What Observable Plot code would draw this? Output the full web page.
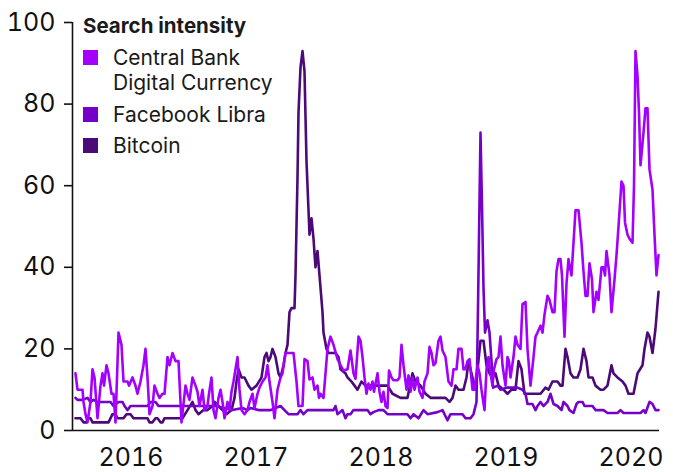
<!DOCTYPE html>
<html>
<head>
<meta charset="utf-8">
<script src="https://cdn.jsdelivr.net/npm/d3@7"></script>
<script src="https://cdn.jsdelivr.net/npm/@observablehq/plot@0.6"></script>
<style>
  html, body { margin: 0; padding: 0; background: #fff; }
  #wrap { position: relative; width: 673px; height: 472px; font-family: Inter, "Noto Sans", sans-serif; color: #1a1a1a; }
  #wrap svg { display: block; }
  .lg { position: absolute; white-space: nowrap; }
  .title { font-weight: 700; font-size: 20.5px; line-height: 20.5px; }
  .lab { font-size: 21px; line-height: 25px; }
  .sw { width: 15px; height: 15px; }
</style>
</head>
<body>
<div id="wrap"></div>
<script>
// Tick labels
const yTicks = [0, 20, 40, 60, 80, 100];
const xYears = [2016, 2017, 2018, 2019, 2020];
const seriesNames = ["Central Bank Digital Currency", "Facebook Libra", "Bitcoin"];
const seriesColors = ["#a300ff", "#7500c8", "#4b0a78"];
const legendTitle = "Search intensity";

// [time in fractional years, search intensity]
const bitcoin = [
[2016.056,3],[2016.096,3],[2016.120,2],[2016.144,2],[2016.160,3],[2016.176,3],[2016.192,2],[2016.320,2],[2016.352,4],[2016.376,4],[2016.392,3],[2016.440,3],[2016.464,4],[2016.496,4],[2016.520,3],[2016.632,3],[2016.648,2],[2016.672,2],[2016.696,3],[2016.712,3],[2016.736,2],[2016.752,2],[2016.768,3],[2016.912,3],[2016.952,5],[2016.992,7],[2017.016,5],[2017.040,4],[2017.080,5],[2017.112,5],[2017.152,6],[2017.168,7],[2017.200,6],[2017.232,5],[2017.264,4],[2017.304,5],[2017.328,8],[2017.344,12],[2017.360,15],[2017.384,13],[2017.408,13],[2017.440,11],[2017.464,10],[2017.504,11],[2017.544,13],[2017.568,18],[2017.584,19],[2017.600,17],[2017.616,18],[2017.632,20],[2017.656,18],[2017.680,14],[2017.696,13],[2017.720,16],[2017.736,19],[2017.752,21],[2017.768,29],[2017.784,30],[2017.808,30],[2017.816,38],[2017.832,62],[2017.840,78],[2017.856,89],[2017.872,93],[2017.888,88],[2017.904,66],[2017.920,54],[2017.928,48],[2017.944,52],[2017.960,47],[2017.976,40],[2017.992,44],[2018.008,38],[2018.032,29],[2018.040,24],[2018.064,20],[2018.080,19],[2018.136,19],[2018.160,18],[2018.176,15],[2018.216,14],[2018.232,13],[2018.264,12],[2018.288,11],[2018.312,10],[2018.344,12],[2018.376,11],[2018.496,11],[2018.552,11],[2018.592,9],[2018.656,8],[2018.712,8],[2018.752,14],[2018.776,12],[2018.816,11],[2018.856,9],[2018.896,8],[2018.952,8],[2019.016,8],[2019.048,7],[2019.072,8],[2019.096,11],[2019.120,10],[2019.160,10],[2019.184,13],[2019.200,17],[2019.232,13],[2019.256,10],[2019.296,22],[2019.320,22],[2019.344,16],[2019.368,14],[2019.392,13],[2019.416,14],[2019.440,11],[2019.480,10],[2019.512,9],[2019.544,10],[2019.576,10],[2019.600,17],[2019.624,15],[2019.648,9],[2019.696,9],[2019.736,9],[2019.776,9],[2019.816,10.5],[2019.840,10],[2019.872,12],[2019.912,12],[2019.936,11],[2019.952,11],[2019.976,20],[2019.992,18],[2020.016,14],[2020.040,13],[2020.072,13],[2020.096,15],[2020.120,20],[2020.144,17],[2020.160,13],[2020.192,13],[2020.216,11],[2020.256,10],[2020.280,10],[2020.312,11],[2020.344,16],[2020.360,14],[2020.392,13],[2020.432,12],[2020.456,11],[2020.480,9],[2020.520,9],[2020.552,14],[2020.592,16],[2020.608,20],[2020.632,24],[2020.648,23],[2020.672,19],[2020.696,25],[2020.720,34]
];

const libra = [
[2016.056,8],[2016.072,7.5],[2016.112,7.5],[2016.152,8],[2016.176,7],[2016.200,7.5],[2016.232,7],[2016.336,7],[2016.360,6],[2016.400,7],[2016.432,7],[2016.448,6],[2016.472,5],[2016.496,6],[2016.632,6],[2016.656,7],[2016.696,7],[2016.720,6],[2017.176,6],[2017.312,5],[2017.392,5.5],[2017.432,5],[2017.456,5.5],[2017.520,5],[2017.616,5],[2017.696,6],[2017.728,5],[2017.760,4],[2017.832,4],[2017.856,5],[2017.880,4],[2017.912,5],[2018.120,5],[2018.136,6],[2018.152,4],[2018.192,5],[2018.216,3],[2018.232,4],[2018.256,4],[2018.280,5],[2018.392,5],[2018.416,4],[2018.440,4.5],[2018.480,5],[2018.520,5],[2018.552,4],[2018.712,4],[2018.736,3],[2018.760,4],[2018.800,3],[2018.840,5],[2018.872,4],[2018.952,4.5],[2018.992,5],[2019.032,2.5],[2019.056,4],[2019.152,4],[2019.176,3],[2019.216,3],[2019.240,4],[2019.264,7],[2019.276,30],[2019.296,73],[2019.308,55],[2019.320,35],[2019.332,24],[2019.352,27],[2019.368,24],[2019.384,17],[2019.396,10.5],[2019.432,11],[2019.456,10],[2019.504,10.5],[2019.592,10.5],[2019.632,10],[2019.656,9],[2019.672,6.5],[2019.712,6.5],[2019.736,5],[2019.752,6],[2019.776,7],[2019.800,6],[2019.832,7],[2019.856,9],[2019.880,6.5],[2019.912,6],[2019.944,5],[2019.960,7],[2019.992,6],[2020.008,5],[2020.040,4.3],[2020.064,6.5],[2020.080,7],[2020.112,7],[2020.128,6],[2020.192,6],[2020.216,5],[2020.280,5],[2020.312,4.3],[2020.392,4.3],[2020.416,5],[2020.440,4.3],[2020.576,4.3],[2020.600,5],[2020.616,4.3],[2020.648,7],[2020.672,6.5],[2020.696,5],[2020.720,5]
];

const cbdc = [
[2016.056,14],[2016.072,10],[2016.088,10],[2016.112,10],[2016.120,7],[2016.136,4],[2016.152,2],[2016.176,7],[2016.192,15],[2016.208,13],[2016.232,3],[2016.256,11],[2016.272,14],[2016.284,11],[2016.304,16],[2016.320,14],[2016.344,9],[2016.360,9],[2016.376,2],[2016.400,24],[2016.424,21],[2016.440,12],[2016.472,12],[2016.484,11],[2016.512,13],[2016.536,11],[2016.552,9],[2016.576,12],[2016.600,16],[2016.616,20],[2016.632,13],[2016.648,4],[2016.672,6],[2016.688,11],[2016.712,9],[2016.728,8],[2016.752,9],[2016.768,9],[2016.792,18],[2016.808,16],[2016.832,19],[2016.856,17],[2016.880,17],[2016.904,2],[2016.936,11],[2016.952,9],[2016.968,7.5],[2016.992,13],[2017.016,11],[2017.032,9.5],[2017.048,6],[2017.072,10],[2017.088,5],[2017.112,6],[2017.124,9],[2017.144,13],[2017.160,5],[2017.176,3],[2017.200,8],[2017.216,10],[2017.232,7],[2017.248,3],[2017.272,7],[2017.288,5],[2017.304,9.5],[2017.320,12],[2017.352,18],[2017.368,10],[2017.384,5],[2017.408,4],[2017.432,5],[2017.448,7],[2017.472,9],[2017.488,5.5],[2017.512,9],[2017.528,10.5],[2017.552,12],[2017.576,13],[2017.592,16],[2017.608,12],[2017.632,7],[2017.648,3],[2017.672,10],[2017.696,13],[2017.712,14],[2017.736,19],[2017.760,19],[2017.800,19],[2017.824,12],[2017.840,6],[2017.872,6],[2017.888,17.5],[2017.912,17],[2017.928,12.5],[2017.952,13],[2017.968,10],[2017.992,11],[2018.004,8],[2018.016,9],[2018.040,8],[2018.072,20],[2018.096,23],[2018.120,21],[2018.152,17.5],[2018.176,16],[2018.200,14.7],[2018.232,15],[2018.256,19.6],[2018.280,14],[2018.296,12.7],[2018.320,23],[2018.336,22],[2018.352,18],[2018.368,13],[2018.384,9],[2018.400,11.5],[2018.416,10],[2018.432,12],[2018.444,9.5],[2018.472,14],[2018.488,9.5],[2018.504,7],[2018.520,9.5],[2018.536,6],[2018.552,5.5],[2018.564,14.7],[2018.584,13],[2018.600,12.3],[2018.632,12.3],[2018.648,13],[2018.664,21],[2018.680,16],[2018.704,10],[2018.720,13.5],[2018.736,9.5],[2018.752,13],[2018.768,10],[2018.792,13],[2018.808,9.5],[2018.832,8],[2018.848,12],[2018.872,14],[2018.888,20.5],[2018.904,19],[2018.920,16],[2018.936,16.5],[2018.960,22],[2018.976,23],[2018.992,19.6],[2019.016,18],[2019.040,12],[2019.064,11],[2019.080,15],[2019.104,15],[2019.120,20],[2019.144,20],[2019.160,15],[2019.176,15],[2019.192,17],[2019.208,17.5],[2019.232,10],[2019.248,10],[2019.272,16],[2019.288,14],[2019.304,10],[2019.328,5],[2019.344,15],[2019.360,18],[2019.376,14],[2019.392,11],[2019.404,15],[2019.424,17.5],[2019.440,18],[2019.456,23],[2019.472,16],[2019.496,11],[2019.512,18],[2019.524,17],[2019.536,13],[2019.560,18],[2019.576,23],[2019.592,21],[2019.616,20],[2019.632,31],[2019.656,31.5],[2019.672,20],[2019.696,11],[2019.720,18],[2019.736,23],[2019.752,24],[2019.776,25.7],[2019.792,24],[2019.808,28.4],[2019.832,33],[2019.848,32],[2019.872,29],[2019.888,29],[2019.904,39],[2019.920,42],[2019.936,42],[2019.948,38],[2019.968,23],[2019.984,36],[2020.000,42],[2020.024,38],[2020.040,46],[2020.056,54],[2020.080,54],[2020.104,46],[2020.120,39],[2020.136,33],[2020.152,33],[2020.168,41],[2020.188,37],[2020.200,29],[2020.224,34],[2020.240,32],[2020.264,40],[2020.280,40],[2020.292,38],[2020.304,44],[2020.328,38],[2020.344,29],[2020.368,37],[2020.384,43],[2020.400,50],[2020.424,61],[2020.440,60],[2020.452,51],[2020.472,48],[2020.488,47],[2020.512,46],[2020.524,60],[2020.536,93],[2020.552,87],[2020.564,78],[2020.576,65],[2020.600,73],[2020.616,79],[2020.632,79],[2020.648,64],[2020.672,59],[2020.688,48],[2020.704,38],[2020.720,43]
];

const xDomain = [2016.032, 2020.728];

const series = [
  {data: bitcoin, color: seriesColors[2]},
  {data: libra, color: seriesColors[1]},
  {data: cbdc, color: seriesColors[0]}
];

const chart = Plot.plot({
  width: 673,
  height: 472,
  marginLeft: 72,
  marginRight: 14,
  marginTop: 22,
  marginBottom: 42,
  style: {fontFamily: "Inter, 'Noto Sans', sans-serif", fontSize: "25px", color: "#111", background: "#fff"},
  x: {domain: xDomain, label: null},
  y: {domain: [0, 100], label: null},
  marks: [
    Plot.axisY({ticks: yTicks, tickSize: 8, tickPadding: 9, strokeWidth: 1.6, label: null, fontSize: 25}),
    Plot.axisX({ticks: xYears.map(y => y + 0.5), tickFormat: d => String(Math.floor(d)), tickSize: 0, tickPadding: 18, label: null, fontSize: 25}),
    Plot.ruleX([xDomain[0]], {y1: 0, y2: 100, stroke: "#111", strokeWidth: 1.6}),
    Plot.ruleY([0], {stroke: "#111", strokeWidth: 1.6}),
    ...series.map(s => Plot.line(s.data, {x: d => d[0], y: d => d[1], stroke: s.color, strokeWidth: 2.6, strokeLinejoin: "round"}))
  ]
});

const wrap = document.getElementById("wrap");
wrap.appendChild(chart);

function addEl(cls, text, left, top, bg) {
  const el = document.createElement("div");
  el.className = "lg " + cls;
  el.style.left = left + "px";
  el.style.top = top + "px";
  if (bg) el.style.background = bg;
  if (text) el.innerHTML = text;
  wrap.appendChild(el);
}
addEl("title", legendTitle, 83, 15.8);
addEl("sw", null, 83, 50, seriesColors[0]);
addEl("lab", "Central Bank<br>Digital Currency", 113, 44.9);
addEl("sw", null, 83, 107, seriesColors[1]);
addEl("lab", seriesNames[1], 113, 101.6);
addEl("sw", null, 83, 138, seriesColors[2]);
addEl("lab", seriesNames[2], 113, 132.6);
</script>
</body>
</html>
